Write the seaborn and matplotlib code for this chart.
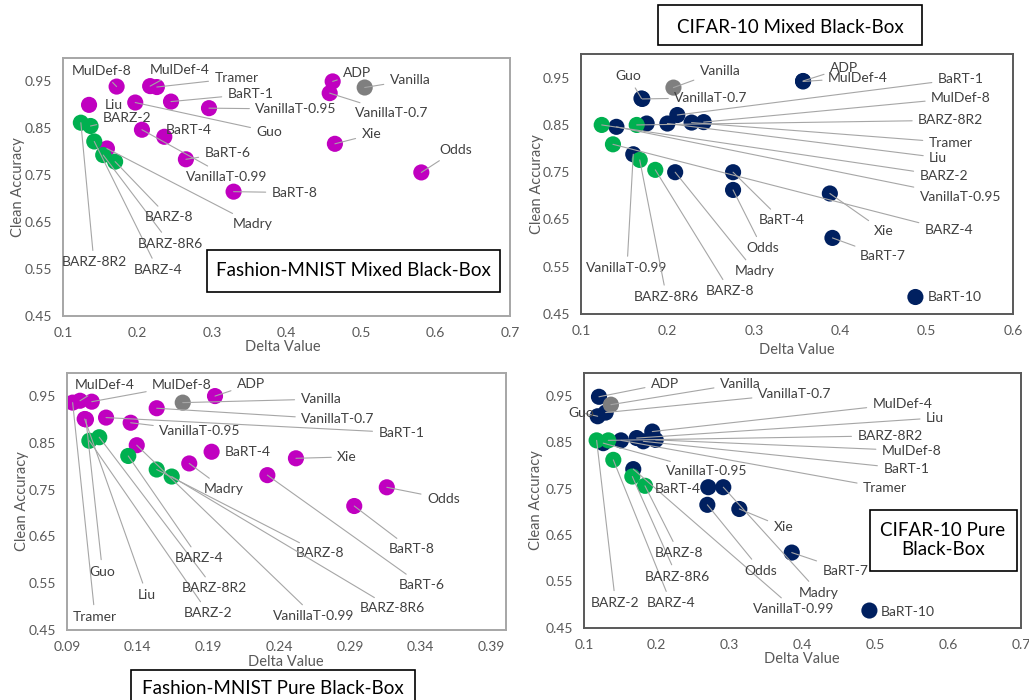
import matplotlib
matplotlib.use('Agg')
import matplotlib.pyplot as plt
from matplotlib.patches import Rectangle
import pandas as pd
import seaborn as sns

# Fashion-MNIST, mixed black-box
fm_mixed_names = ['MulDef-8', 'MulDef-4', 'Tramer', 'BaRT-1', 'VanillaT-0.95', 'Liu', 'Guo',
                  'VanillaT-0.99', 'BaRT-4', 'BaRT-6', 'Madry', 'BaRT-8', 'ADP', 'VanillaT-0.7',
                  'Vanilla', 'Xie', 'Odds', 'BARZ-2', 'BARZ-8R2', 'BARZ-4', 'BARZ-8R6', 'BARZ-8']
fm_mixed_delta = [0.172, 0.217, 0.226, 0.245, 0.296, 0.135, 0.197, 0.206, 0.236, 0.265, 0.159,
                  0.329, 0.462, 0.458, 0.505, 0.465, 0.581, 0.137, 0.124, 0.142, 0.154, 0.170]
fm_mixed_acc = [0.939, 0.940, 0.938, 0.907, 0.893, 0.900, 0.905, 0.847, 0.832, 0.784, 0.807,
                0.715, 0.950, 0.925, 0.937, 0.817, 0.756, 0.855, 0.862, 0.822, 0.793, 0.779]

# CIFAR-10, mixed black-box
cf_mixed_names = ['Guo', 'VanillaT-0.7', 'Vanilla', 'BaRT-1', 'VanillaT-0.95', '', 'Liu', 'Tramer',
                  'MulDef-8', 'ADP', 'MulDef-4', 'VanillaT-0.99', 'Madry', 'BaRT-4', 'Odds', 'Xie',
                  'BaRT-7', 'BaRT-10', 'BARZ-2', 'BARZ-8R2', 'BARZ-4', 'BARZ-8R6', 'BARZ-8']
cf_mixed_delta = [0.170, 0.171, 0.207, 0.2115, 0.141, 0.176, 0.200, 0.228, 0.242, 0.357, 0.357,
                  0.1605, 0.209, 0.276, 0.276, 0.388, 0.391, 0.487, 0.124, 0.1645, 0.137, 0.168, 0.186]
cf_mixed_acc = [0.906, 0.905, 0.929, 0.871, 0.846, 0.853, 0.853, 0.855, 0.856, 0.943, 0.942,
                0.788, 0.750, 0.750, 0.7125, 0.705, 0.611, 0.486, 0.850, 0.850, 0.809, 0.776, 0.755]

# Fashion-MNIST, pure black-box
fm_pure_names = ['Tramer', 'MulDef-4', 'MulDef-8', 'Guo', 'Liu', 'BaRT-1', 'VanillaT-0.95',
                 'VanillaT-0.7', 'ADP', 'VanillaT-0.99', 'Madry', 'BaRT-4', 'Xie', 'BaRT-6', 'Odds',
                 'BaRT-8', 'Vanilla', 'BARZ-2', 'BARZ-8R2', 'BARZ-4', 'BARZ-8', 'BARZ-8R6']
fm_pure_delta = [0.094, 0.0992, 0.1075, 0.1034, 0.1025, 0.1176, 0.135, 0.1534, 0.1946, 0.1393,
                 0.1764, 0.1922, 0.2518, 0.2316, 0.316, 0.293, 0.1718, 0.1058, 0.1128, 0.1333,
                 0.1534, 0.164]
fm_pure_acc = [0.936, 0.940, 0.938, 0.900, 0.901, 0.904, 0.893, 0.924, 0.950, 0.845, 0.806, 0.831,
               0.817, 0.781, 0.755, 0.715, 0.936, 0.8545, 0.862, 0.822, 0.793, 0.778]

# CIFAR-10, pure black-box
cf_pure_names = ['ADP', 'Vanilla', 'Guo', 'VanillaT-0.7', 'VanillaT-0.95', 'Tramer', 'Liu', 'BaRT-1',
                 'MulDef-4', 'MulDef-8', 'VanillaT-0.99', 'BaRT-4', 'Madry', 'Odds', 'Xie', 'BaRT-7',
                 'BaRT-10', 'BARZ-2', 'BARZ-8R2', 'BARZ-4', 'BARZ-8R6', 'BARZ-8']
cf_pure_delta = [0.1206, 0.137, 0.1188, 0.1298, 0.1265, 0.1508, 0.1724, 0.1815, 0.1938, 0.1985,
                 0.1677, 0.2707, 0.2913, 0.2694, 0.3133, 0.3853, 0.4919, 0.1174, 0.1334, 0.1403,
                 0.1664, 0.1838]
cf_pure_acc = [0.948, 0.931, 0.906, 0.914, 0.848, 0.854, 0.859, 0.852, 0.873, 0.855, 0.792, 0.753,
               0.753, 0.715, 0.706, 0.612, 0.487, 0.854, 0.854, 0.812, 0.776, 0.756]

# where each data label sits (data coordinates)
fm_mixed_label_at = {
    'MulDef-8': (0.152, 0.972), 'MulDef-4': (0.257, 0.975), 'Tramer': (0.333, 0.957),
    'BaRT-1': (0.352, 0.923), 'VanillaT-0.95': (0.413, 0.891), 'Liu': (0.168, 0.900),
    'BARZ-2': (0.186, 0.872), 'Guo': (0.377, 0.843), 'BaRT-4': (0.269, 0.847),
    'BaRT-6': (0.321, 0.798), 'VanillaT-0.99': (0.320, 0.747), 'BaRT-8': (0.411, 0.713),
    'Madry': (0.355, 0.646), 'BARZ-8': (0.242, 0.660), 'BARZ-8R6': (0.244, 0.604),
    'BARZ-8R2': (0.1416, 0.564), 'BARZ-4': (0.2275, 0.548), 'ADP': (0.495, 0.967),
    'Vanilla': (0.566, 0.953), 'VanillaT-0.7': (0.5416, 0.883), 'Xie': (0.514, 0.837),
    'Odds': (0.6275, 0.804)}
cf_mixed_label_at = {
    'Guo': (0.1548, 0.953), 'Vanilla': (0.261, 0.965), 'VanillaT-0.7': (0.2505, 0.9075),
    'ADP': (0.4044, 0.9706), 'MulDef-4': (0.4206, 0.9496), 'BaRT-1': (0.5396, 0.9475),
    'MulDef-8': (0.5398, 0.9075), 'BARZ-8R2': (0.528, 0.860), 'Tramer': (0.528, 0.8127),
    'Liu': (0.5135, 0.781), 'BARZ-2': (0.52, 0.7426), 'VanillaT-0.95': (0.5392, 0.6984),
    'BARZ-4': (0.526, 0.6268), 'Xie': (0.4507, 0.6247), 'BaRT-7': (0.4495, 0.572),
    'BaRT-10': (0.5325, 0.4864), 'BaRT-4': (0.3326, 0.648), 'Odds': (0.310, 0.589),
    'Madry': (0.3014, 0.5405), 'BARZ-8': (0.2725, 0.4984), 'BARZ-8R6': (0.199, 0.4858),
    'VanillaT-0.99': (0.1532, 0.5468)}
fm_pure_label_at = {
    'MulDef-4': (0.1169, 0.9735), 'MulDef-8': (0.1713, 0.9735), 'ADP': (0.220, 0.9756),
    'Vanilla': (0.2695, 0.9436), 'VanillaT-0.7': (0.2815, 0.900), 'BaRT-1': (0.3264, 0.8716),
    'VanillaT-0.95': (0.184, 0.875), 'BaRT-4': (0.218, 0.830), 'Madry': (0.201, 0.751),
    'Xie': (0.288, 0.820), 'Odds': (0.356, 0.731), 'BaRT-8': (0.3333, 0.6224),
    'BaRT-6': (0.3405, 0.546), 'BARZ-8': (0.2688, 0.614), 'BARZ-8R6': (0.3199, 0.4964),
    'VanillaT-0.99': (0.2646, 0.480), 'BARZ-4': (0.1833, 0.603), 'BARZ-8R2': (0.1939, 0.539),
    'BARZ-2': (0.19, 0.4857), 'Guo': (0.1151, 0.5746), 'Liu': (0.1465, 0.5248),
    'Tramer': (0.1098, 0.4784)}
cf_pure_label_at = {
    'ADP': (0.2113, 0.9764), 'Vanilla': (0.3147, 0.9764), 'VanillaT-0.7': (0.3892, 0.9547),
    'MulDef-4': (0.5375, 0.9332), 'Liu': (0.5821, 0.9023), 'BARZ-8R2': (0.5203, 0.864),
    'MulDef-8': (0.5501, 0.8316), 'BaRT-1': (0.5427, 0.7928), 'Tramer': (0.5135, 0.751),
    'Xie': (0.3738, 0.6668), 'BaRT-7': (0.4589, 0.5731), 'Madry': (0.4228, 0.5256),
    'VanillaT-0.99': (0.3885, 0.4904), 'BaRT-10': (0.5444, 0.4839), 'Odds': (0.3431, 0.5731),
    'BARZ-8': (0.2305, 0.6107), 'BARZ-8R6': (0.2277, 0.5602), 'BARZ-2': (0.1433, 0.504),
    'BARZ-4': (0.2195, 0.5027), 'VanillaT-0.95': (0.269, 0.787), 'BaRT-4': (0.2291, 0.7496),
    'Guo': (0.0966, 0.9137)}

acc_ticks = [0.45, 0.55, 0.65, 0.75, 0.85, 0.95]

sns.set_style('white')
plt.rcParams['font.family'] = ['Lato', 'DejaVu Sans']

MAGENTA = '#c000c0'
NAVY = '#002060'
GREEN = '#00b050'
GREY = '#7f7f7f'


def draw_panel(ax, names, delta, acc, label_at, defense_color, no_leader, xlim, xticks, xfmt,
               frame_color, xlab_pos, ylab_pos):
    df = pd.DataFrame({'name': names, 'delta': delta, 'acc': acc})
    df['group'] = ['Vanilla' if n == 'Vanilla' else 'BARZ' if n.startswith('BARZ') else 'Defense'
                   for n in names]
    # defences first, BARZ on top
    df['rank'] = df['group'].map({'Defense': 0, 'Vanilla': 1, 'BARZ': 2})
    df = df.sort_values('rank', kind='stable')
    sns.scatterplot(data=df, x='delta', y='acc', hue='group',
                    palette={'Defense': defense_color, 'Vanilla': GREY, 'BARZ': GREEN},
                    s=135, linewidth=0, alpha=1, legend=False, ax=ax, zorder=2)
    for _, r in df.iterrows():
        if not r['name']:
            continue
        lx, ly = label_at[r['name']]
        arrow = None
        if r['name'] not in no_leader:
            arrow = dict(arrowstyle='-', color='#a6a6a6', lw=0.8, shrinkA=2, shrinkB=0)
        ax.annotate(r['name'], xy=(r['delta'], r['acc']), xytext=(lx, ly), ha='center',
                    va='center', fontsize=10, color='#404040', arrowprops=arrow, zorder=3,
                    annotation_clip=False)
    ax.set_xlim(*xlim)
    ax.set_ylim(0.45, 1.0)
    ax.set_xticks(xticks)
    ax.set_xticklabels([xfmt.format(t) for t in xticks])
    ax.set_yticks(acc_ticks)
    ax.set_yticklabels(['{:.2f}'.format(t) for t in acc_ticks])
    ax.tick_params(length=0, labelsize=10, labelcolor='#595959', pad=8)
    for sp in ax.spines.values():
        sp.set_visible(True)
        sp.set_color(frame_color)
        sp.set_linewidth(1.4)
    ax.set_xlabel('Delta Value', fontsize=10.5, color='#595959', va='center')
    ax.set_ylabel('Clean Accuracy', fontsize=10.5, color='#595959', va='center')
    ax.xaxis.set_label_coords(*xlab_pos)
    ax.yaxis.set_label_coords(*ylab_pos)


fig = plt.figure(figsize=(10.29, 7.0), dpi=100)
ax1 = fig.add_axes([0.0612, 0.5486, 0.4344, 0.3686])
ax2 = fig.add_axes([0.5646, 0.5514, 0.4199, 0.3714])
ax3 = fig.add_axes([0.0651, 0.1000, 0.4263, 0.3676])
ax4 = fig.add_axes([0.5675, 0.1033, 0.4247, 0.3643])

draw_panel(ax1, fm_mixed_names, fm_mixed_delta, fm_mixed_acc, fm_mixed_label_at, MAGENTA,
           {'Liu', 'BaRT-4'}, (0.1, 0.7), [0.1, 0.2, 0.3, 0.4, 0.5, 0.6, 0.7], '{:.1f}',
           '#a6a6a6', (0.492, -0.12), (-0.10, 0.5))
draw_panel(ax2, cf_mixed_names, cf_mixed_delta, cf_mixed_acc, cf_mixed_label_at, NAVY,
           {'BaRT-10'}, (0.1, 0.6), [0.1, 0.2, 0.3, 0.4, 0.5, 0.6], '{:.1f}',
           '#595959', (0.5, -0.138), (-0.101, 0.5))
draw_panel(ax3, fm_pure_names, fm_pure_delta, fm_pure_acc, fm_pure_label_at, MAGENTA,
           {'BaRT-4'}, (0.09, 0.40), [0.09, 0.14, 0.19, 0.24, 0.29, 0.34, 0.39], '{:.2f}',
           '#a6a6a6', (0.499, -0.124), (-0.103, 0.5))
draw_panel(ax4, cf_pure_names, cf_pure_delta, cf_pure_acc, cf_pure_label_at, NAVY,
           {'BaRT-4', 'BaRT-10'}, (0.1, 0.7), [0.1, 0.2, 0.3, 0.4, 0.5, 0.6, 0.7], '{:.1f}',
           '#595959', (0.499, -0.122), (-0.11, 0.5))

# boxed panel titles
titles = [
    ((0.2012, 0.5829, 0.2847, 0.0600), 'Fashion-MNIST Mixed Black-Box'),
    ((0.6395, 0.9357, 0.2566, 0.0571), 'CIFAR-10 Mixed Black-Box'),
    ((0.1273, -0.0071, 0.2760, 0.0500), 'Fashion-MNIST Pure Black-Box'),
    ((0.8455, 0.1847, 0.1426, 0.0867), 'CIFAR-10 Pure\nBlack-Box'),
]
text_centers = [(0.3435, 0.6129), (0.7677, 0.9614), (0.2653, 0.0171), (0.9164, 0.2286)]
for ((x0, y0, w, h), txt), (cx, cy) in zip(titles, text_centers):
    fig.add_artist(Rectangle((x0, y0), w, h, transform=fig.transFigure, facecolor='white',
                             edgecolor='black', lw=1.2, zorder=5))
    fig.text(cx, cy, txt, ha='center', va='center', fontsize=13.5, color='black',
             linespacing=1.1, zorder=6)

fig.savefig('out.png', dpi=100)
